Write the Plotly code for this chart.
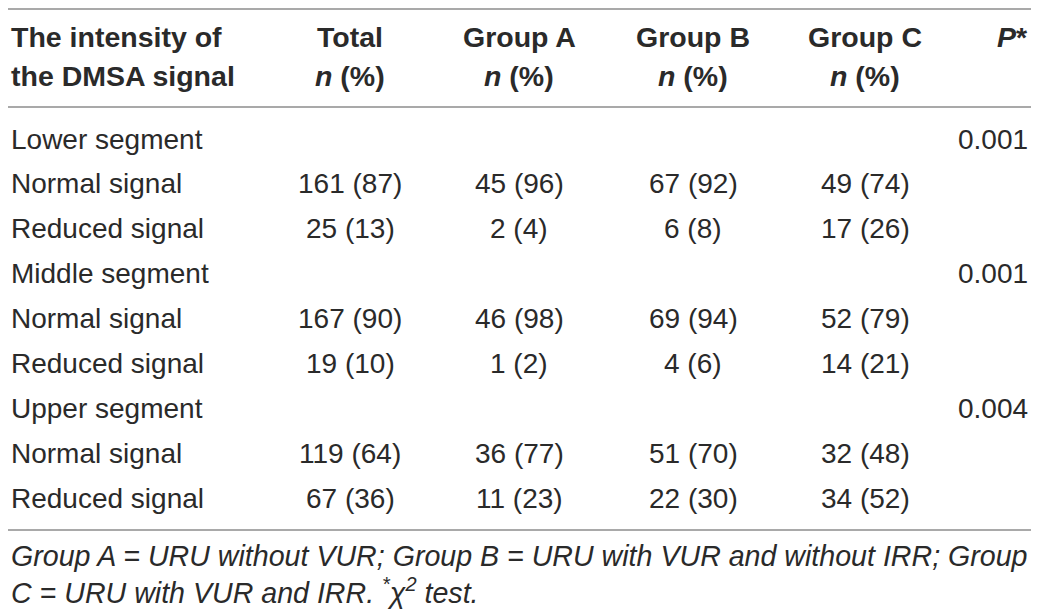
import plotly.graph_objects as go

# table content
row_labels = ["Lower segment", "Normal signal", "Reduced signal",
              "Middle segment", "Normal signal", "Reduced signal",
              "Upper segment", "Normal signal", "Reduced signal"]
total = ["", "161 (87)", "25 (13)", "", "167 (90)", "19 (10)", "", "119 (64)", "67 (36)"]
group_a = ["", "45 (96)", "2 (4)", "", "46 (98)", "1 (2)", "", "36 (77)", "11 (23)"]
group_b = ["", "67 (92)", "6 (8)", "", "69 (94)", "4 (6)", "", "51 (70)", "22 (30)"]
group_c = ["", "49 (74)", "17 (26)", "", "52 (79)", "14 (21)", "", "32 (48)", "34 (52)"]
p_vals = ["0.001", "", "", "0.001", "", "", "0.004", "", ""]

header_top = ["<b>The intensity of</b>", "<b>Total</b>", "<b>Group A</b>",
              "<b>Group B</b>", "<b>Group C</b>", "<b><i>P</i>*</b>"]
header_bot = ["<b>the DMSA signal</b>", "<b><i>n</i> (%)</b>", "<b><i>n</i> (%)</b>",
              "<b><i>n</i> (%)</b>", "<b><i>n</i> (%)</b>", ""]
footnote = ["<i>Group A = URU without VUR; Group B = URU with VUR and without IRR; Group</i>",
            "<i>C = URU with VUR and IRR. <sup>*</sup>χ<sup>2</sup> test.</i>"]

# the page puts the plot 8 px in from the top-left corner
OFF = 8
W, H = 1039, 613
txt = "#2a2a2a"
font = "Liberation Sans"
fs = 28

col_x = [OFF + 1, 350, 519, 693, 865, 1030]
col_anchor = ["left", "center", "center", "center", "center", "right"]
columns = [row_labels, total, group_a, group_b, group_c, p_vals]

row_y0, row_dy = 139, 44.9
rule_y = [9, 107, 530]

fig = go.Figure()
ann = []
for x, anc, t, b in zip(col_x, col_anchor, header_top, header_bot):
    ann.append(dict(x=x, y=37, text=t, xanchor=anc, font=dict(size=fs + 0.5)))
    if b:
        ann.append(dict(x=x, y=76, text=b, xanchor=anc, font=dict(size=fs + 0.5)))
for x, anc, col in zip(col_x, col_anchor, columns):
    for i, v in enumerate(col):
        if v:
            ann.append(dict(x=x, y=row_y0 + i * row_dy, text=v, xanchor=anc,
                            font=dict(size=fs)))
for i, line in enumerate(footnote):
    ann.append(dict(x=OFF + 1, y=556 + i * 35, text=line, xanchor="left",
                    font=dict(size=fs + 0.6)))
for a in ann:
    a.update(xref="x", yref="y", showarrow=False, yanchor="middle", align="left")
    a["font"].update(family=font, color=txt)

shapes = [dict(type="line", xref="x", yref="y", x0=OFF, x1=W, y0=y, y1=y,
               line=dict(color="#8c8c8c", width=1.5)) for y in rule_y]

fig.update_layout(width=W - OFF, height=H - OFF, margin=dict(l=0, r=0, t=0, b=0),
                  paper_bgcolor="white", plot_bgcolor="white",
                  annotations=ann, shapes=shapes, showlegend=False,
                  xaxis=dict(range=[OFF, W], visible=False, fixedrange=True),
                  yaxis=dict(range=[H, OFF], visible=False, fixedrange=True))
fig.write_html("out.html")
